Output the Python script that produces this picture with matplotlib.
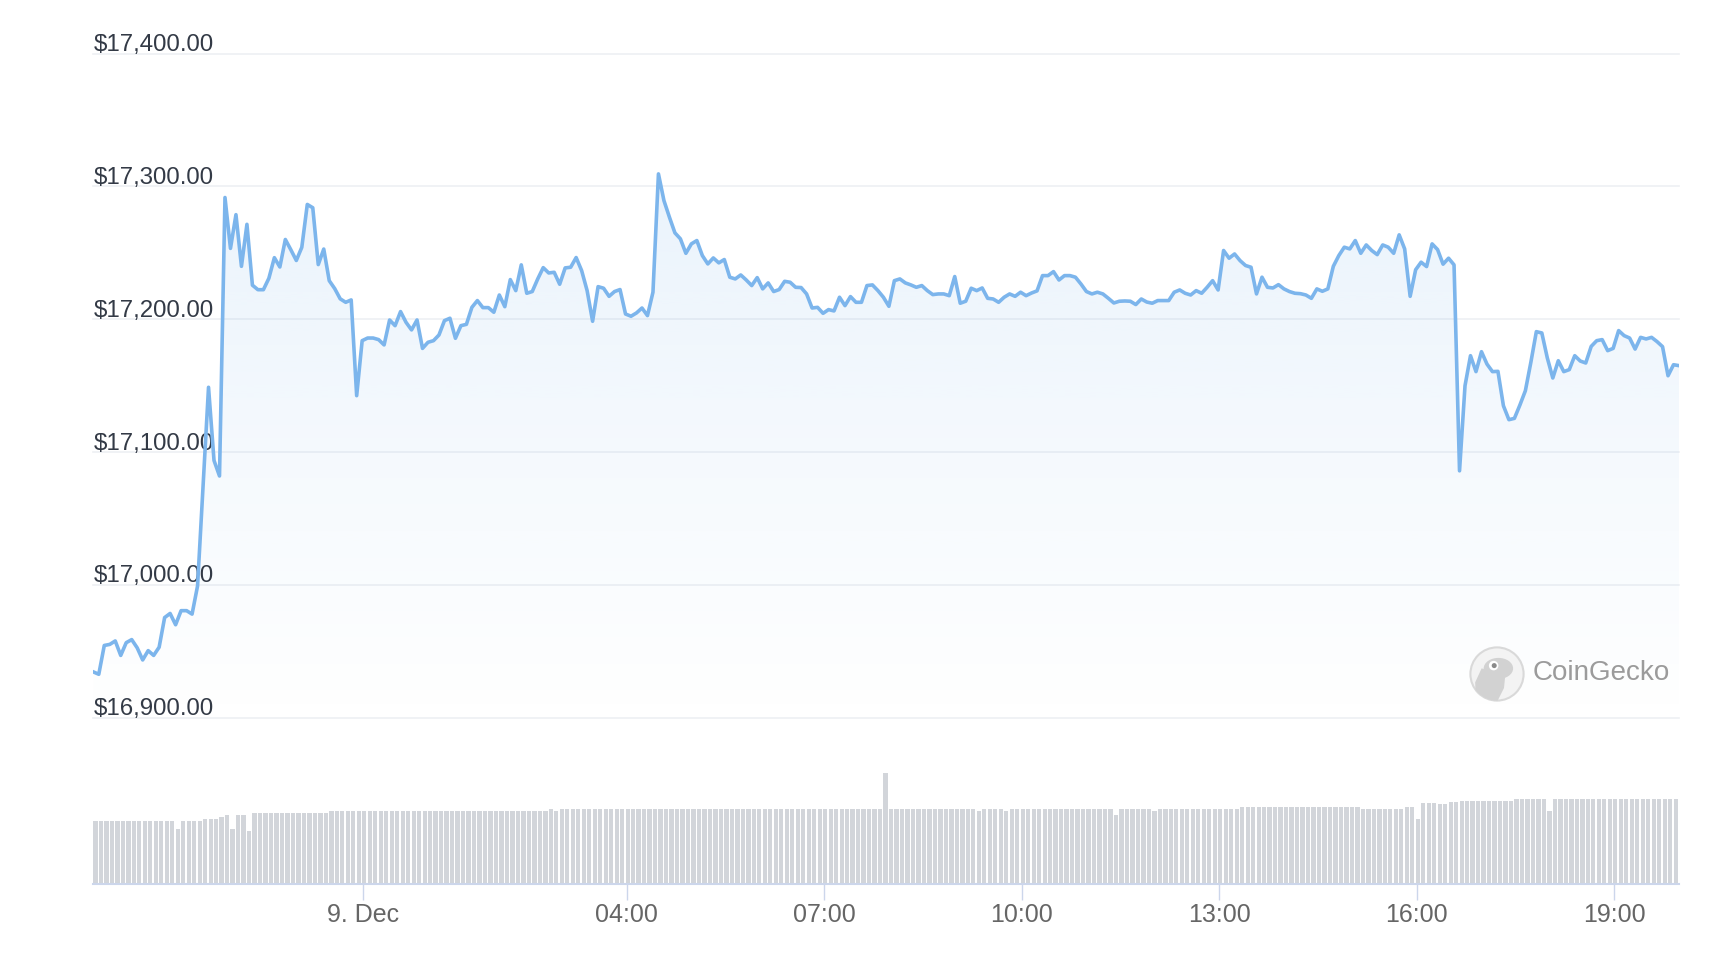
import numpy as np
import pandas as pd
import matplotlib
matplotlib.use('Agg')
import matplotlib.pyplot as plt
import matplotlib.dates as mdates
import matplotlib.transforms as mtransforms
from matplotlib.colors import LinearSegmentedColormap
from matplotlib.patches import Circle, Ellipse, Polygon

plt.rcParams['font.family'] = ['Liberation Sans', 'DejaVu Sans']

# BTC price, 5 minute samples starting 8 Dec 19:54
start_time = '2022-12-08 19:54'
prices = [
    16934.5, 16932.7, 16954.4, 16955.2, 16957.8, 16946.9, 16956.5, 16958.8, 16952.6, 16943.5,
    16950.5, 16946.9, 16953.1, 16975.4, 16978.5, 16970.0, 16980.6, 16980.6, 16978.0, 16999.2,
    17074.0, 17148.8, 17093.7, 17082.0, 17291.7, 17253.4, 17278.8, 17239.9, 17271.5, 17225.7,
    17222.3, 17222.3, 17230.9, 17246.4, 17239.4, 17260.1, 17252.4, 17244.3, 17254.2, 17286.5,
    17284.0, 17241.2, 17252.9, 17229.1, 17223.1, 17215.4, 17212.8, 17214.6, 17142.5, 17183.9,
    17185.9, 17185.9, 17184.7, 17180.7, 17199.5, 17195.2, 17205.8, 17197.7, 17192.0, 17199.5,
    17178.1, 17182.7, 17183.9, 17188.2, 17199.0, 17200.8, 17185.7, 17195.2, 17196.2, 17209.0,
    17214.1, 17208.8, 17208.8, 17205.3, 17218.3, 17209.5, 17229.9, 17221.6, 17241.0, 17219.6,
    17220.9, 17230.4, 17238.9, 17234.9, 17235.4, 17226.4, 17238.7, 17239.2, 17246.5, 17236.7,
    17221.6, 17198.5, 17224.6, 17223.4, 17217.3, 17220.9, 17222.4, 17204.0, 17202.3, 17204.8,
    17208.5, 17202.8, 17220.4, 17309.5, 17289.4, 17276.9, 17265.1, 17260.6, 17249.7, 17256.8,
    17259.3, 17248.0, 17241.7, 17246.2, 17242.5, 17245.0, 17231.7, 17230.4, 17233.4, 17229.6,
    17225.4, 17231.4, 17222.9, 17227.4, 17220.9, 17222.4, 17228.6, 17227.9, 17224.1, 17223.9,
    17219.1, 17208.5, 17209.0, 17204.5, 17207.3, 17206.3, 17216.6, 17210.3, 17217.1, 17212.8,
    17212.8, 17225.4, 17225.9, 17221.6, 17216.6, 17209.8, 17229.1, 17230.4, 17227.4, 17225.9,
    17224.1, 17225.4, 17221.6, 17218.6, 17219.1, 17219.1, 17217.8, 17232.2, 17212.1, 17213.6,
    17223.4, 17221.6, 17223.6, 17215.8, 17215.3, 17212.8, 17216.6, 17219.1, 17217.3, 17220.4,
    17217.8, 17219.8, 17221.4, 17232.9, 17232.9, 17235.9, 17229.6, 17232.9, 17232.9, 17231.7,
    17226.6, 17220.9, 17219.1, 17220.4, 17219.1, 17215.8, 17212.3, 17213.6, 17213.8, 17213.6,
    17211.1, 17215.3, 17213.0, 17212.1, 17214.1, 17214.1, 17214.1, 17220.4, 17222.1, 17219.6,
    17218.3, 17221.6, 17219.6, 17224.1, 17229.1, 17222.1, 17251.8, 17246.0, 17249.2, 17244.2,
    17240.5, 17239.2, 17219.1, 17231.7, 17224.1, 17223.6, 17226.1, 17222.9, 17220.9, 17219.6,
    17219.3, 17218.3, 17215.8, 17222.9, 17221.1, 17222.9, 17239.9, 17248.0, 17254.3, 17253.0,
    17259.3, 17249.7, 17256.0, 17251.8, 17248.7, 17256.0, 17254.3, 17249.7, 17263.6, 17253.0,
    17217.3, 17237.3, 17243.0, 17239.7, 17256.8, 17252.5, 17241.5, 17246.0, 17241.0, 17085.9,
    17150.0, 17172.6, 17160.6, 17175.6, 17166.3, 17160.6, 17160.8, 17134.9, 17124.4, 17125.4,
    17135.4, 17146.2, 17167.6, 17190.7, 17189.7, 17170.9, 17155.8, 17168.8, 17160.6, 17162.1,
    17172.6, 17168.6, 17167.1, 17179.6, 17183.9, 17184.7, 17176.4, 17178.1, 17191.5, 17187.7,
    17185.9, 17177.6, 17186.4, 17185.2, 17186.4, 17183.2, 17179.4, 17157.5, 17165.8, 17165.1,
]

# 24h volume (billion USD), one bar per price sample
volumes = [
    15.8, 15.8, 15.8, 15.8, 15.8, 15.8, 15.8, 15.8, 15.8, 15.8,
    15.8, 15.8, 15.8, 15.8, 15.8, 13.8, 15.8, 15.8, 15.8, 15.8,
    16.3, 16.3, 16.3, 16.8, 17.3, 13.8, 17.3, 17.3, 13.3, 17.8,
    17.8, 17.8, 17.8, 17.8, 17.8, 17.8, 17.8, 17.8, 17.8, 17.8,
    17.8, 17.8, 17.8, 18.3, 18.3, 18.3, 18.3, 18.3, 18.3, 18.3,
    18.3, 18.3, 18.3, 18.3, 18.3, 18.3, 18.3, 18.3, 18.3, 18.3,
    18.3, 18.3, 18.3, 18.3, 18.3, 18.3, 18.3, 18.3, 18.3, 18.3,
    18.3, 18.3, 18.3, 18.3, 18.3, 18.3, 18.3, 18.3, 18.3, 18.3,
    18.3, 18.3, 18.3, 18.8, 18.3, 18.8, 18.8, 18.8, 18.8, 18.8,
    18.8, 18.8, 18.8, 18.8, 18.8, 18.8, 18.8, 18.8, 18.8, 18.8,
    18.8, 18.8, 18.8, 18.8, 18.8, 18.8, 18.8, 18.8, 18.8, 18.8,
    18.8, 18.8, 18.8, 18.8, 18.8, 18.8, 18.8, 18.8, 18.8, 18.8,
    18.8, 18.8, 18.8, 18.8, 18.8, 18.8, 18.8, 18.8, 18.8, 18.8,
    18.8, 18.8, 18.8, 18.8, 18.8, 18.8, 18.8, 18.8, 18.8, 18.8,
    18.8, 18.8, 18.8, 18.8, 27.8, 18.8, 18.8, 18.8, 18.8, 18.8,
    18.8, 18.8, 18.8, 18.8, 18.8, 18.8, 18.8, 18.8, 18.8, 18.8,
    18.8, 18.3, 18.8, 18.8, 18.8, 18.8, 18.3, 18.8, 18.8, 18.8,
    18.8, 18.8, 18.8, 18.8, 18.8, 18.8, 18.8, 18.8, 18.8, 18.8,
    18.8, 18.8, 18.8, 18.8, 18.8, 18.8, 17.3, 18.8, 18.8, 18.8,
    18.8, 18.8, 18.8, 18.3, 18.8, 18.8, 18.8, 18.8, 18.8, 18.8,
    18.8, 18.8, 18.8, 18.8, 18.8, 18.8, 18.8, 18.8, 18.8, 19.3,
    19.3, 19.3, 19.3, 19.3, 19.3, 19.3, 19.3, 19.3, 19.3, 19.3,
    19.3, 19.3, 19.3, 19.3, 19.3, 19.3, 19.3, 19.3, 19.3, 19.3,
    19.3, 18.8, 18.8, 18.8, 18.8, 18.8, 18.8, 18.8, 18.8, 19.3,
    19.3, 16.3, 20.3, 20.3, 20.3, 20.0, 20.0, 20.5, 20.5, 20.8,
    20.8, 20.8, 20.8, 20.8, 20.8, 20.8, 20.8, 20.8, 20.8, 21.3,
    21.3, 21.3, 21.3, 21.3, 21.3, 18.3, 21.3, 21.3, 21.3, 21.3,
    21.3, 21.3, 21.3, 21.3, 21.3, 21.3, 21.3, 21.3, 21.3, 21.3,
    21.3, 21.3, 21.3, 21.3, 21.3, 21.3, 21.3, 21.3, 21.3, 21.3,
]

y_ticks = [16900, 17000, 17100, 17200, 17300, 17400]
x_ticks = ['2022-12-09 00:00', '2022-12-09 04:00', '2022-12-09 07:00', '2022-12-09 10:00',
           '2022-12-09 13:00', '2022-12-09 16:00', '2022-12-09 19:00']
x_tick_labels = ['9. Dec', '04:00', '07:00', '10:00', '13:00', '16:00', '19:00']

times = pd.date_range(start_time, periods=len(prices), freq='5min')
t = mdates.date2num(times)
xt = mdates.date2num(pd.to_datetime(x_ticks))

W, H = 1728, 960
fig = plt.figure(figsize=(W / 100, H / 100), dpi=100)
fig.patch.set_facecolor('white')


def px_box(x0, y0, x1, y1):
    # pixel box (top-left origin) -> figure fraction rect
    return [x0 / W, 1 - y1 / H, (x1 - x0) / W, (y1 - y0) / H]


line_color = '#7cb5ec'

# ---- price panel
ax = fig.add_axes(px_box(93.3, 53.7, 1679, 717.7))
for y in y_ticks:
    ax.axhline(y, color='#eef0f3', lw=1.2, zorder=0, clip_on=False)

# gradient area under the line
rgb = matplotlib.colors.to_rgb(line_color)
cmap = LinearSegmentedColormap.from_list('area', [(*rgb, 0.0), (*rgb, 0.16)])
grad = np.linspace(0, 1, 256).reshape(-1, 1)
ymax = max(prices)
im = ax.imshow(grad, extent=[t[0], t[-1], y_ticks[0], ymax], origin='lower',
               aspect='auto', cmap=cmap, zorder=1, interpolation='bilinear')
area = ax.fill_between(t, prices, y_ticks[0], facecolor='none', edgecolor='none')
im.set_clip_path(area.get_paths()[0], transform=ax.transData)

ax.plot(t, prices, color=line_color, lw=2.6, solid_joinstyle='round', zorder=3)

lab_trans = mtransforms.offset_copy(ax.get_yaxis_transform(), fig=fig, y=2.5, units='dots')
for y in y_ticks:
    ax.text(0, y, f'${y:,.2f}', transform=lab_trans, ha='left', va='baseline',
            fontsize=17.3, color='#333a46', zorder=2)

ax.set_xlim(t[0], t[-1])
ax.set_ylim(y_ticks[0], y_ticks[-1])
ax.set_xticks([])
ax.set_yticks([])
for s in ax.spines.values():
    s.set_visible(False)
ax.patch.set_alpha(0)

# ---- volume panel
vax = fig.add_axes(px_box(93.3, 760, 1679, 884))
vax.bar(t, volumes, width=3.9 / 1440, align='edge', color='#d2d5da', zorder=1)
vax.set_xlim(t[0], t[-1])
vax.set_ylim(0, 31)
vax.set_yticks([])
vax.set_xticks(xt)
vax.set_xticklabels(x_tick_labels)
vax.tick_params(axis='x', length=11.5, width=1.0, color='#ccd6eb', labelcolor='#666666',
                labelsize=18, pad=2.5)
for k in ['top', 'left', 'right']:
    vax.spines[k].set_visible(False)
vax.spines['bottom'].set_color('#ccd6eb')
vax.spines['bottom'].set_linewidth(1.5)
vax.patch.set_alpha(0)

# ---- CoinGecko watermark
lax = fig.add_axes(px_box(1469, 646, 1525, 702))
lax.set_xlim(-1, 1)
lax.set_ylim(-1, 1)
lax.set_aspect('equal')
lax.axis('off')
badge = Circle((0, 0), 0.95, fc='#f3f3f3', ec='#d9d9d9', lw=1.5)
lax.add_patch(badge)
head = Ellipse((0.05, 0.2), 1.05, 0.75, fc='#d2d2d2', ec='none')
body = Polygon([(-0.55, 0.2), (0.3, 0.0), (0.25, -0.5), (0.0, -1.0), (-0.75, -1.0), (-0.78, -0.3)],
               closed=True, fc='#d2d2d2', ec='none')
for p in (head, body):
    lax.add_patch(p)
    p.set_clip_path(badge)
lax.add_patch(Circle((-0.12, 0.3), 0.17, fc='white', ec='none'))
lax.add_patch(Circle((-0.1, 0.3), 0.09, fc='#8a8a8a', ec='none'))
fig.text(1533 / W, 1 - 673.5 / H, 'CoinGecko', ha='left', va='center',
         fontsize=20, color='#9b9b9b')

fig.savefig('out.png', dpi=100)
